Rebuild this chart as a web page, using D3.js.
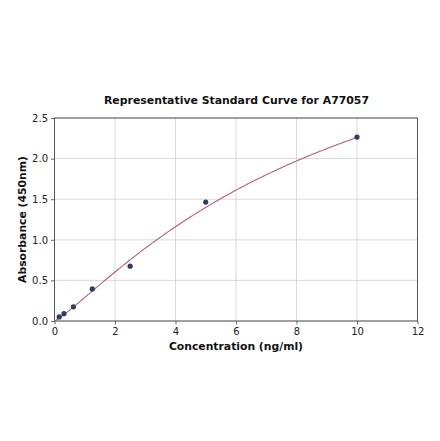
<!DOCTYPE html>
<html>
<head>
<meta charset="utf-8">
<script src="https://cdn.jsdelivr.net/npm/d3@7"></script>
<style>
  body { margin: 0; background: #fff; }
  text { font-family: "DejaVu Sans", sans-serif; }
</style>
</head>
<body>
<svg id="chart" width="440" height="441"></svg>
<script>
// standards
const concentration = [0.156, 0.3125, 0.625, 1.25, 2.5, 5, 10];
const absorbance = [0.05, 0.09, 0.175, 0.395, 0.675, 1.465, 2.265];
const xTicks = [0, 2, 4, 6, 8, 10, 12];
const yTicks = [0.0, 0.5, 1.0, 1.5, 2.0, 2.5];
// four parameter logistic fit (a, b, c, d)
const fit = { a: 0, b: 1.17, c: 9.75, d: 4.454 };

const svg = d3.select('#chart');
const margin = { left: 54.5, right: 22.5, top: 118, bottom: 120 };
const width = 440 - margin.left - margin.right;
const height = 441 - margin.top - margin.bottom;

const x = d3.scaleLinear().domain([0, 12]).range([margin.left, margin.left + width]);
const y = d3.scaleLinear().domain([0, 2.5]).range([margin.top + height, margin.top]);

// grid
svg.append('g')
    .selectAll('line')
    .data(xTicks)
    .join('line')
    .attr('x1', (d) => x(d))
    .attr('x2', (d) => x(d))
    .attr('y1', y(0))
    .attr('y2', y(2.5))
    .attr('stroke', '#d0d0d0')
    .attr('stroke-width', 0.8);
svg.append('g')
    .selectAll('line')
    .data(yTicks)
    .join('line')
    .attr('x1', x(0))
    .attr('x2', x(12))
    .attr('y1', (d) => y(d))
    .attr('y2', (d) => y(d))
    .attr('stroke', '#d0d0d0')
    .attr('stroke-width', 0.8);

// axes
const xAxis = svg.append('g')
    .attr('transform', `translate(0,${y(0)})`)
    .call(d3.axisBottom(x).tickValues(xTicks).tickSize(3.5).tickPadding(3).tickFormat(d3.format('d')));
const yAxis = svg.append('g')
    .attr('transform', `translate(${x(0)},0)`)
    .call(d3.axisLeft(y).tickValues(yTicks).tickSize(3.5).tickPadding(3).tickFormat(d3.format('.1f')));
[xAxis, yAxis].forEach((g) => {
    g.select('.domain').remove();
    g.selectAll('line').attr('stroke', '#444').attr('stroke-width', 0.8);
    g.selectAll('text')
        .attr('fill', '#222')
        .style('font-family', '"DejaVu Sans", sans-serif')
        .style('font-size', '10px');
});

svg.append('rect')
    .attr('x', x(0))
    .attr('y', y(2.5))
    .attr('width', width)
    .attr('height', height)
    .attr('fill', 'none')
    .attr('stroke', '#555')
    .attr('stroke-width', 1);

// fitted curve
const curveX = d3.range(0, 10.001, 0.05);
const model = (v) => fit.d + (fit.a - fit.d) / (1 + Math.pow(v / fit.c, fit.b));
svg.append('path')
    .datum(curveX)
    .attr('fill', 'none')
    .attr('stroke', '#b8607c')
    .attr('stroke-width', 1.1)
    .attr('d', d3.line().x((d) => x(d)).y((d) => y(model(d))));

// points
svg.append('g')
    .selectAll('circle')
    .data(concentration)
    .join('circle')
    .attr('cx', (d) => x(d))
    .attr('cy', (d, i) => y(absorbance[i]))
    .attr('r', 2.6)
    .attr('fill', '#2f3d63');

// labels
svg.append('text')
    .attr('x', 236.5)
    .attr('y', 103.5)
    .attr('text-anchor', 'middle')
    .style('font-weight', 'bold')
    .style('font-size', '10.9px')
    .attr('fill', '#111')
    .text('Representative Standard Curve for A77057');
svg.append('text')
    .attr('x', x(6))
    .attr('y', 350)
    .attr('text-anchor', 'middle')
    .style('font-weight', 'bold')
    .style('font-size', '10.8px')
    .attr('fill', '#111')
    .text('Concentration (ng/ml)');
svg.append('text')
    .attr('transform', `translate(26,${y(1.25)}) rotate(-90)`)
    .attr('text-anchor', 'middle')
    .style('font-weight', 'bold')
    .style('font-size', '10.8px')
    .attr('fill', '#111')
    .text('Absorbance (450nm)');
</script>
</body>
</html>
